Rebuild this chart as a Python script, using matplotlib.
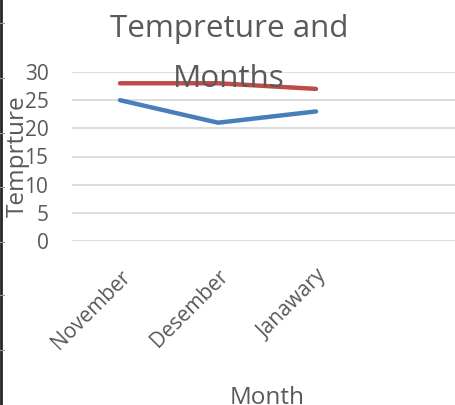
import matplotlib
matplotlib.use("Agg")
import matplotlib.pyplot as plt
from matplotlib.lines import Line2D

plt.rcParams['font.family'] = ['Open Sans', 'DejaVu Sans']

months = ["November", "Desember", "Janawary"]
series_blue = [25, 21, 23]
series_red = [28, 28, 27]
yticks = [0, 5, 10, 15, 20, 25, 30]

W, H = 456, 405
fig = plt.figure(figsize=(W / 100, H / 100), dpi=100)
fig.patch.set_facecolor('white')

left_px, right_px = 72, 456
top_px, bottom_px = 72, 241
ax = fig.add_axes([left_px / W, 1 - bottom_px / H,
                   (right_px - left_px) / W, (bottom_px - top_px) / H])

x = list(range(len(months)))
text_color = '#595959'
ax.plot(x, series_blue, color='#4a7ebb', lw=3.2, solid_capstyle='round', zorder=3)
ax.plot(x, series_red, color='#be4b48', lw=3.2, solid_capstyle='round', zorder=3)

spacing = 98.0
first_px = 120
ax.set_xlim(-(first_px - left_px) / spacing, (right_px - first_px) / spacing)
ax.set_ylim(0, 30)
ax.set_yticks(yticks)
ax.set_yticklabels([str(v) for v in yticks])
ax.set_xticks(x)
ax.set_xticklabels(months, rotation=45, ha='right', va='top', rotation_mode='anchor')
ax.tick_params(axis='both', length=0, labelsize=15, colors=text_color)
ax.tick_params(axis='y', pad=17)
ax.tick_params(axis='x', pad=18)
ax.grid(axis='y', color='#d9d9d9', lw=1.3)
ax.set_axisbelow(True)
for s in ax.spines.values():
    s.set_visible(False)
ax.patch.set_alpha(0)

fig.text(229 / W, 1 - 37 / H, "Tempreture and", ha='center', va='baseline',
         fontsize=22.6, color=text_color, zorder=5)
fig.text(229 / W, 1 - 87 / H, "Months", ha='center', va='baseline',
         fontsize=22.6, color=text_color, zorder=5)
fig.text(267 / W, 1 - 404 / H, "Month", ha='center', va='baseline',
         fontsize=17.5, color=text_color)
fig.text(30 / W, 1 - 156 / H, "Temprture", ha='right', va='center', rotation=90,
         fontsize=17.5, color=text_color)

# left border of the sheet cell area
fig.add_artist(Line2D([1 / W, 1 / W], [0, 1], color='#262626', lw=2.0,
                      transform=fig.transFigure))
for yp in [23, 78, 133, 187, 242, 295, 350]:
    fig.add_artist(Line2D([0, 4 / W], [1 - yp / H, 1 - yp / H], color='#9a9a9a',
                          lw=0.8, transform=fig.transFigure))

fig.savefig("out.png", dpi=100)
